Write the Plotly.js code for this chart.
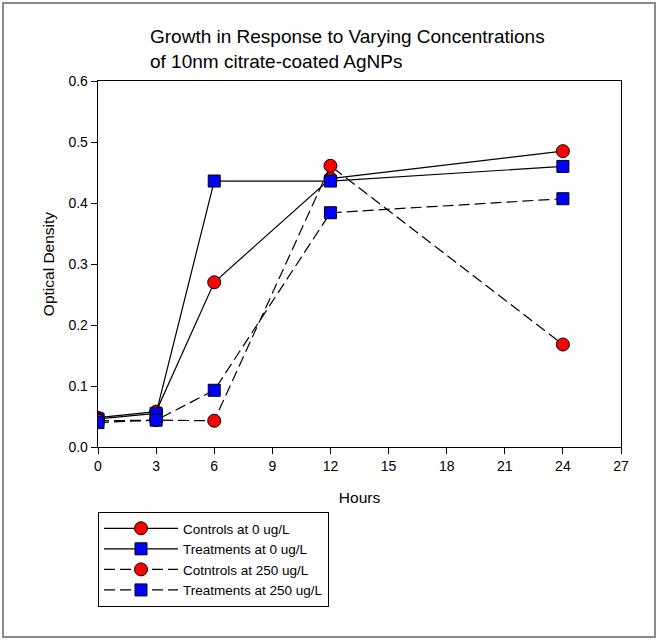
<!DOCTYPE html>
<html>
<head>
<meta charset="utf-8">
<script src="https://cdn.plot.ly/plotly-3.0.1.min.js"></script>
<style>html,body{margin:0;padding:0;background:#fff;}#chart{width:659px;height:641px;}</style>
</head>
<body>
<div id="chart"></div>
<script>
var hours = [0, 3, 6, 12, 24];
var controls0 = [0.048, 0.058, 0.270, 0.440, 0.485];
var treatments0 = [0.046, 0.055, 0.436, 0.436, 0.460];
var controls250 = [0.043, 0.044, 0.043, 0.461, 0.168];
var treatments250 = [0.040, 0.044, 0.093, 0.384, 0.407];
var seriesNames = ["Controls at 0 ug/L", "Treatments at 0 ug/L", "Cotntrols at 250 ug/L", "Treatments at 250 ug/L"];
var xTicks = [0, 3, 6, 9, 12, 15, 18, 21, 24, 27];
var yTicks = [0.0, 0.1, 0.2, 0.3, 0.4, 0.5, 0.6];

var W = 659, H = 641, L = 98, R = 38, T = 81, B = 194;
var pw = W - L - R, ph = H - T - B;
function px(xp){ return (xp - L) / pw; }
function py(yp){ return (H - B - yp) / ph; }

function mk(y, name, sym, col, dash){
  return {
    x: hours, y: y, name: name, type: 'scatter', mode: 'lines+markers',
    line: {color: '#000', width: 1.2, dash: dash},
    marker: {symbol: sym, color: col, size: sym === 'circle' ? 13 : 12, line: {color: '#000', width: 1}}
  };
}
var data = [
  mk(controls0, seriesNames[0], 'circle', '#ff0000', 'solid'),
  mk(treatments0, seriesNames[1], 'square', '#0000ff', 'solid'),
  mk(controls250, seriesNames[2], 'circle', '#ff0000', '11px,5px'),
  mk(treatments250, seriesNames[3], 'square', '#0000ff', '11px,5px')
];

var font = 'Arial, "Liberation Sans", sans-serif';
var layout = {
  width: W, height: H,
  margin: {l: L, r: R, t: T, b: B, pad: 0},
  paper_bgcolor: '#fff', plot_bgcolor: '#fff',
  font: {family: font, color: '#000', size: 14},
  title: {
    text: 'Growth in Response to Varying Concentrations<br>of 10nm citrate-coated AgNPs',
    font: {family: font, size: 19, color: '#000'},
    xref: 'container', x: 150 / W, xanchor: 'left',
    yref: 'container', y: 1 - 43 / H, yanchor: 'top', align: 'left'
  },
  xaxis: {
    range: [0, 27], tickvals: xTicks, ticktext: xTicks.map(String),
    showgrid: false, zeroline: false, showline: true, linecolor: '#000', linewidth: 1.3, mirror: true,
    ticks: 'outside', ticklen: 6, tickcolor: '#000', tickwidth: 1,
    tickfont: {size: 14}, fixedrange: true,
    title: {text: 'Hours', font: {size: 15.5}, standoff: 19}
  },
  yaxis: {
    range: [0, 0.6], tickvals: yTicks, ticktext: yTicks.map(function(v){return v.toFixed(1);}),
    showgrid: false, zeroline: false, showline: true, linecolor: '#000', linewidth: 1.3, mirror: true,
    ticks: 'outside', ticklen: 6, tickcolor: '#000', tickwidth: 1,
    tickfont: {size: 14}, fixedrange: true,
    title: {text: 'Optical Density', font: {size: 15.5}, standoff: 10}
  },
  showlegend: true,
  legend: {
    x: px(98), xanchor: 'left', y: py(512), yanchor: 'top',
    bordercolor: '#000', borderwidth: 1, bgcolor: '#fff',
    font: {size: 13.5}, itemwidth: 74, tracegroupgap: 0
  },
  shapes: [{
    type: 'rect', xref: 'paper', yref: 'paper', layer: 'below',
    x0: px(3), x1: px(655), y0: py(637), y1: py(3),
    line: {color: '#8a8a8a', width: 2}
  }]
};
Plotly.newPlot('chart', data, layout, {displayModeBar: false, staticPlot: true});
</script>
</body>
</html>
